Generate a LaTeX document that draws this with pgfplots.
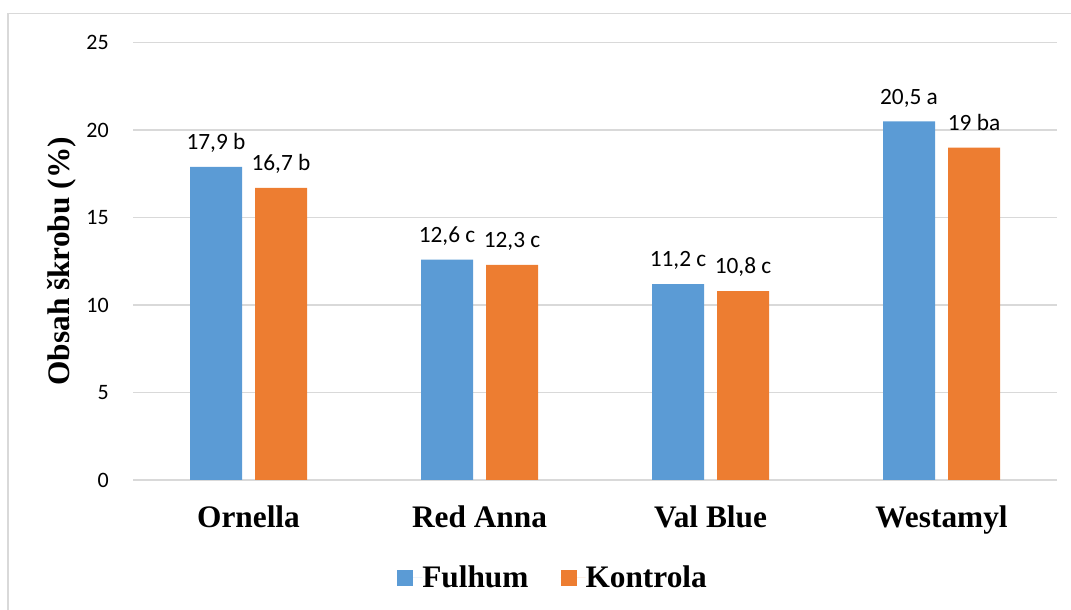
\documentclass[border=0pt]{standalone}
\usepackage{fontspec}
\setmainfont{Liberation Serif}
\newfontfamily\calibri{Carlito}
\usepackage{pgfplots}
\pgfplotsset{compat=1.18}
\definecolor{cblue}{HTML}{5B9BD5}
\definecolor{corange}{HTML}{ED7D31}
\definecolor{cgrid}{HTML}{D9D9D9}
\pgfplotsset{sqlegend/.style={legend image code/.code={\fill[##1] (0pt,-6pt) rectangle (12pt,6pt); \path (0pt,0pt) -- (18.75pt,0pt);}}}
\begin{document}
\begin{tikzpicture}
\useasboundingbox (0,0) rectangle (803.25pt,457.5pt);
\draw[cgrid, line width=1.1pt] (6pt,0) -- (6pt,447.375pt) -- (803.25pt,447.375pt);
\begin{axis}[
 at={(99.75pt,97.5pt)}, anchor=south west,
 scale only axis, width=693pt, height=328pt,
 ybar=9.75pt, bar width=39pt,
 xmin=-0.5, xmax=3.5, ymin=0, ymax=25,
 xtick=data, xticklabels={Ornella, Red Anna, Val Blue, Westamyl},
 ytick={0,5,...,25},
 axis line style={draw=none},
 major tick length=0pt,
 ymajorgrids, grid style={cgrid, line width=1.1pt},
 /pgf/number format/assume math mode=true,
 yticklabel style={font=\calibri\fontsize{16.5}{20}\selectfont, anchor=east, inner sep=0pt, xshift=-18pt},
 xticklabel style={font=\bfseries\fontsize{23.5}{28}\selectfont, anchor=base, inner sep=0pt, yshift=-36pt},
 ylabel={Obsah škrobu (\%)},
 ylabel style={font=\bfseries\fontsize{23.5}{28}\selectfont, at={(axis description cs:-0.0682,0.5)}, anchor=base, inner sep=0pt},
 point meta=explicit symbolic,
 nodes near coords,
 every node near coord/.append style={font=\calibri\fontsize{17.5}{21}\selectfont, anchor=base, inner sep=0pt, yshift=13pt, text=black},
 legend columns=2,
 legend style={draw=none, fill=none, inner sep=0pt, font=\bfseries\fontsize{23.5}{28}\selectfont, at={(rel axis cs:0.4535,-0.224)}, anchor=center, nodes={inner sep=0pt}, /tikz/every even column/.append style={column sep=24pt}},
]
\addplot[fill=cblue, draw=none, sqlegend]
 coordinates {(0,17.9) [17,9 b] (1,12.6) [12,6 c] (2,11.2) [11,2 c] (3,20.5) [20,5 a]};
\addplot[fill=corange, draw=none, sqlegend]
 coordinates {(0,16.7) [16,7 b] (1,12.3) [12,3 c] (2,10.8) [10,8 c] (3,19) [19 ba]};
\legend{Fulhum, Kontrola}
\end{axis}
\end{tikzpicture}
\end{document}
